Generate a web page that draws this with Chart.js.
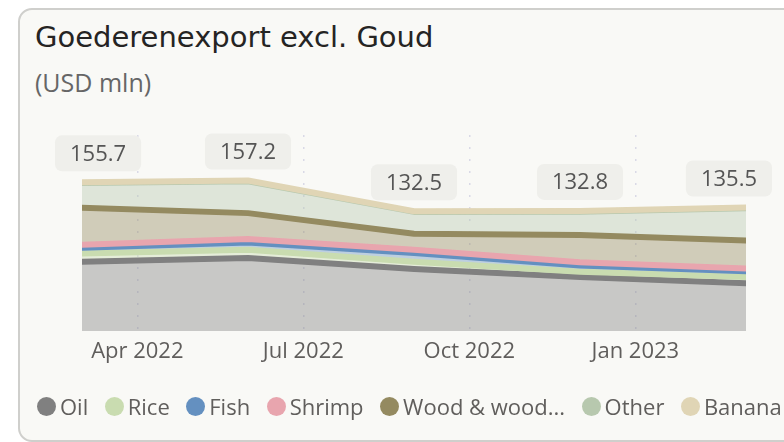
<!DOCTYPE html>
<html>
<head>
<meta charset="utf-8">
<script src="https://cdn.jsdelivr.net/npm/chart.js@4.4.1/dist/chart.umd.min.js"></script>
<style>
  html, body { margin: 0; padding: 0; background: #ffffff; }
  body { width: 784px; height: 442px; position: relative; overflow: hidden; }
  #card {
    position: absolute; left: 18px; top: 8px; width: 800px; height: 430px;
    background: #f9f9f6; border: 2px solid #cfcfcc; border-radius: 14px;
  }
  #title {
    position: absolute; left: 35px; top: 20px; font-family: "DejaVu Sans", sans-serif;
    font-size: 29px; color: #252423; white-space: nowrap;
  }
  #subtitle {
    position: absolute; left: 35px; top: 65px; font-family: "Open Sans", sans-serif;
    font-size: 25px; color: #666666; white-space: nowrap;
  }
  #chart { position: absolute; left: 0; top: 0; }
  #legend {
    position: absolute; left: 37px; top: 391px; display: flex; white-space: nowrap;
    font-family: "Open Sans", sans-serif; font-size: 22px; color: #605e5c;
  }
  .item { display: flex; align-items: center; margin-right: 16.5px; }
  .dot { width: 19px; height: 19px; border-radius: 50%; margin-right: 4px; }
</style>
</head>
<body>
<div id="card"></div>
<div id="title">Goederenexport excl. Goud</div>
<div id="subtitle">(USD mln)</div>
<canvas id="chart" width="784" height="442"></canvas>
<div id="legend"></div>
<script>
// months since Mar 2022
const periods = [0, 3, 6, 9, 12];
const tickMonths = [1, 4, 7, 10];
const tickLabels = ["Apr 2022", "Jul 2022", "Oct 2022", "Jan 2023"];

const seriesNames = ["Oil", "Rice", "Fish", "Shrimp", "Wood & wood...", "Other", "Banana"];
const oil = [92.0, 95.0, 86.1, 79.7, 74.8];
const rice = [6.5, 6.7, 5.9, 4.3, 4.9];
const fish = [4.7, 5.8, 6.9, 4.9, 4.7];
const shrimp = [2.5, 2.8, 2.8, 2.6, 2.2];
const wood = [29.6, 20.7, 12.7, 22.0, 22.4];
const other = [19.8, 25.5, 17.6, 18.7, 25.9];
const banana = [0.6, 0.7, 0.5, 0.6, 0.6];
const totals = [155.7, 157.2, 132.5, 132.8, 135.5];

const seriesValues = [oil, rice, fish, shrimp, wood, other, banana];
const lineColors = ["#808080", "#c9dcb0", "#6490c0", "#e8a5ae", "#948a60", "#b7c8ae", "#e0d5b5"];

function hexToRgba(hex, a) {
    const n = parseInt(hex.slice(1), 16);
    return "rgba(" + (n >> 16) + "," + ((n >> 8) & 255) + "," + (n & 255) + "," + a + ")";
}

// running sums; lower order = drawn later, so upper series sit on top
let running = periods.map(() => 0);
const datasets = seriesNames.map((name, i) => {
    running = running.map((r, j) => r + seriesValues[i][j]);
    return {
        label: name,
        data: periods.map((p, j) => ({ x: p, y: running[j] })),
        borderColor: lineColors[i],
        backgroundColor: hexToRgba(lineColors[i], 0.4),
        borderWidth: 6,
        borderCapStyle: "round",
        borderJoinStyle: "round",
        pointRadius: 0,
        tension: 0,
        fill: i === 0 ? "start" : "-1",
        order: -i,
    };
});

// total labels in rounded boxes above the stack
const totalLabels = {
    id: "totalLabels",
    afterDatasetsDraw(chart) {
        const ctx = chart.ctx;
        const xs = chart.scales.x;
        const ys = chart.scales.y;
        ctx.save();
        ctx.font = "22px 'Open Sans'";
        ctx.textAlign = "center";
        ctx.textBaseline = "middle";
        totals.forEach((t, i) => {
            const txt = t.toFixed(1);
            const w = ctx.measureText(txt).width + 30;
            const h = 36;
            let cx = xs.getPixelForValue(periods[i]);
            cx = Math.max(55 + w / 2, Math.min(772 - w / 2, cx));
            const cy = ys.getPixelForValue(t) - 29;
            ctx.fillStyle = "#efefeb";
            ctx.beginPath();
            ctx.roundRect(cx - w / 2, cy - h / 2, w, h, 7);
            ctx.fill();
            ctx.fillStyle = "#555555";
            ctx.fillText(txt, cx, cy + 1);
        });
        ctx.restore();
    }
};

new Chart("chart", {
    type: "line",
    data: { datasets },
    options: {
        responsive: false,
        animation: false,
        layout: { padding: { left: 82, right: 38, top: 135, bottom: 68.6 } },
        plugins: {
            legend: { display: false },
            tooltip: { enabled: false },
            filler: { drawTime: "beforeDatasetsDraw" },
        },
        scales: {
            x: {
                type: "linear",
                min: 0,
                max: 12,
                afterBuildTicks: (axis) => { axis.ticks = tickMonths.map(v => ({ value: v })); },
                ticks: {
                    padding: 8,
                    color: "#605e5c",
                    font: { family: "Open Sans", size: 22 },
                    callback: (v) => tickLabels[tickMonths.indexOf(v)],
                },
                grid: { color: "#d9d9e6", lineWidth: 1.5, drawTicks: false },
                border: { display: false, dash: [2, 10] },
            },
            y: {
                display: false,
                min: 36.4,
                max: 193.7,
            },
        },
    },
    plugins: [totalLabels],
});

const legend = document.getElementById("legend");
seriesNames.forEach((name, i) => {
    const item = document.createElement("div");
    item.className = "item";
    const dot = document.createElement("span");
    dot.className = "dot";
    dot.style.background = lineColors[i];
    const label = document.createElement("span");
    label.textContent = name;
    item.appendChild(dot);
    item.appendChild(label);
    legend.appendChild(item);
});
</script>
</body>
</html>
